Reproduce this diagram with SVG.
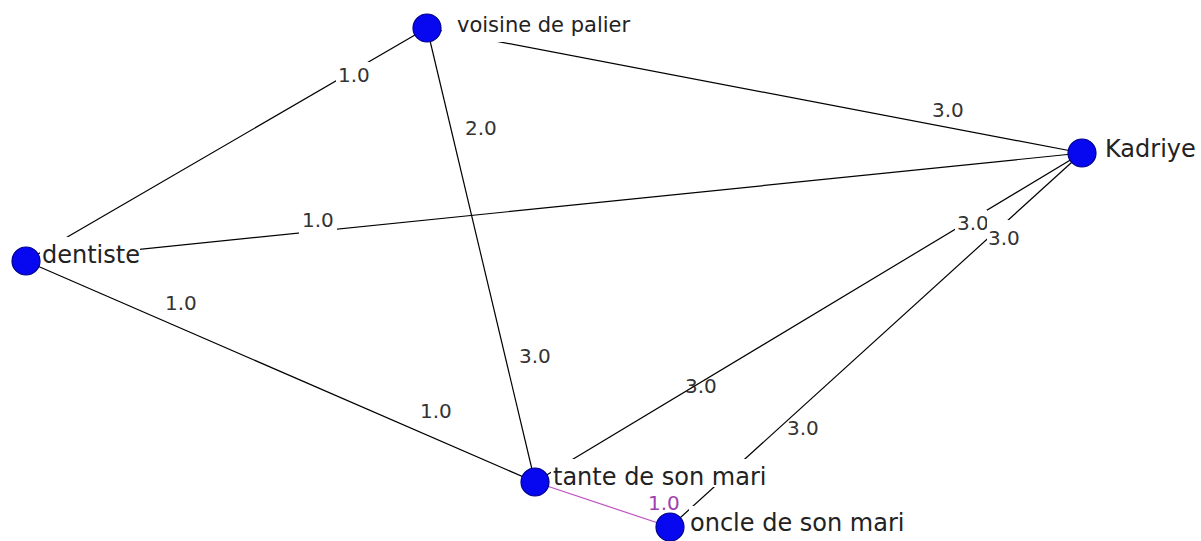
<svg xmlns="http://www.w3.org/2000/svg" width="1201" height="541" viewBox="0 0 1201 541">
<style>
.bg{fill:#ffffff}
.edge{stroke:#000;stroke-width:1.2;fill:none}
.edge2{stroke:#c050c0;stroke-width:1.2;fill:none}
.el{font-family:"DejaVu Sans",sans-serif;font-size:20px;fill:#333}
.elp{font-family:"DejaVu Sans",sans-serif;font-size:20px;fill:#a040b0}
.nl{font-family:"DejaVu Sans",sans-serif;font-size:24px;fill:#222}
.nls{font-family:"DejaVu Sans",sans-serif;font-size:21px;fill:#222}
.lb{fill:#fff}
.node{fill:#0808f0;stroke:#00008b;stroke-width:1.2}
</style>
<rect x="0" y="0" width="1201" height="541" class="bg"/>
<g id="connectors">
  <text class="el" x="685" y="393">3.0</text>
  <text class="el" x="787" y="435">3.0</text>
  <line class="edge" x1="26" y1="261" x2="427" y2="28"/>
  <line class="edge" x1="427" y1="28" x2="1082" y2="153"/>
  <line class="edge" x1="427" y1="28" x2="535" y2="482"/>
  <line class="edge" x1="26" y1="261" x2="1082" y2="153"/>
  <line class="edge" x1="26" y1="261" x2="535" y2="482"/>
  <line class="edge" x1="535" y1="482" x2="1082" y2="153"/>
  <line class="edge" x1="670" y1="527" x2="1082" y2="153"/>
  <line class="edge2" x1="535" y1="482" x2="670" y2="527"/>
  <rect class="lb" x="336" y="62" width="37" height="24"/>
  <text class="el" x="338" y="82">1.0</text>
  <text class="el" x="932" y="117">3.0</text>
  <text class="el" x="465" y="135">2.0</text>
  <text class="el" x="519" y="363">3.0</text>
  <rect class="lb" x="299" y="207" width="38" height="27"/>
  <text class="el" x="302" y="227">1.0</text>
  <text class="el" x="165" y="310">1.0</text>
  <text class="el" x="420" y="418">1.0</text>
  <rect class="lb" x="955" y="210" width="32" height="23"/>
  <text class="el" x="957" y="230">3.0</text>
  <rect class="lb" x="987" y="220" width="33" height="25"/>
  <text class="el" x="988" y="245">3.0</text>
  <text class="elp" x="648" y="510">1.0</text>
</g>
<g id="node-voisine">
  <rect class="lb" x="442" y="8" width="196" height="34"/>
  <text class="nls" x="457" y="32">voisine de palier</text>
  <circle class="node" cx="427" cy="28" r="14"/>
</g>
<g id="node-dentiste">
  <rect class="lb" x="40" y="237" width="100" height="28"/>
  <text class="nl" x="42" y="263">dentiste</text>
  <circle class="node" cx="26" cy="261" r="14"/>
</g>
<g id="node-kadriye">
  <rect class="lb" x="1098" y="133" width="100" height="30"/>
  <text class="nl" x="1105" y="157">Kadriye</text>
  <circle class="node" cx="1082" cy="153" r="14"/>
</g>
<g id="node-tante">
  <rect class="lb" x="551" y="459" width="230" height="28"/>
  <text class="nl" x="553" y="485">tante de son mari</text>
  <circle class="node" cx="535" cy="482" r="14"/>
</g>
<g id="node-oncle">
  <rect class="lb" x="689" y="506" width="230" height="35"/>
  <text class="nl" x="690" y="531">oncle de son mari</text>
  <circle class="node" cx="670" cy="527" r="14"/>
</g>
</svg>
